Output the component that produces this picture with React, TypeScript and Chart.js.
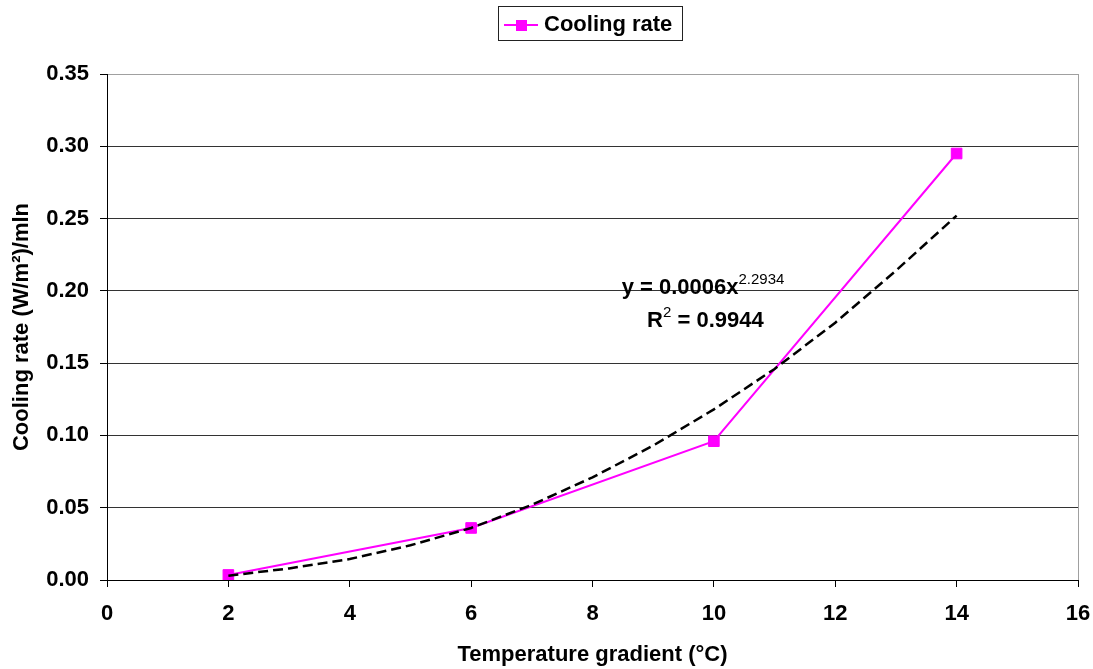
import { useEffect, useRef } from "react"
import { Chart, registerables } from "chart.js"

Chart.register(...registerables)

const FONT = "'Liberation Sans', Arial, sans-serif"

const gradients = [2, 6, 10, 14]
const coolingRates = [0.0035, 0.036, 0.096, 0.295]

// dashed power trendline
const trendX = [2, 3, 4, 5, 6, 7, 8, 9, 10, 11, 12, 13, 14]
const trendY = [0.003, 0.008, 0.0145, 0.024, 0.036, 0.052, 0.071, 0.093, 0.118, 0.146, 0.178, 0.214, 0.252]

const legendLabel = "Cooling rate"
const xTitle = "Temperature gradient (°C)"
const yTitle = "Cooling rate (W/m²)/mln"
const eqMain = "y = 0.0006x"
const eqExp = "2.2934"
const r2Main = "R"
const r2Exp = "2"
const r2Rest = " = 0.9944"
// where the equation lines start, in data units
const eqAnchor = [8.48, 0.198]
const r2Anchor = [8.9, 0.175]

const overlay = {
  id: "overlay",
  afterDraw(chart: any) {
    const { ctx, chartArea, scales } = chart
    ctx.save()

    // legend box
    ctx.font = `bold 22px ${FONT}`
    const textW = ctx.measureText(legendLabel).width
    const boxW = Math.round(6 + 34 + 6 + textW + 10)
    const boxX = Math.round((chartArea.left + chartArea.right) / 2 - boxW / 2) - 3
    ctx.fillStyle = "#fff"
    ctx.fillRect(boxX, 6, boxW, 34)
    ctx.strokeStyle = "#222"
    ctx.lineWidth = 1
    ctx.strokeRect(boxX + 0.5, 6.5, boxW, 34)
    ctx.strokeStyle = "#ff00ff"
    ctx.lineWidth = 2
    ctx.beginPath()
    ctx.moveTo(boxX + 6, 25)
    ctx.lineTo(boxX + 40, 25)
    ctx.stroke()
    ctx.fillStyle = "#ff00ff"
    ctx.fillRect(boxX + 18, 20, 11, 11)
    ctx.fillStyle = "#000"
    ctx.textBaseline = "alphabetic"
    ctx.textAlign = "left"
    ctx.fillText(legendLabel, boxX + 46, 31)

    // trendline equation
    const ex = scales.x.getPixelForValue(eqAnchor[0])
    const ey = scales.y.getPixelForValue(eqAnchor[1])
    ctx.font = `bold 22px ${FONT}`
    ctx.fillText(eqMain, ex, ey)
    const w1 = ctx.measureText(eqMain).width
    ctx.font = `15px ${FONT}`
    ctx.fillText(eqExp, ex + w1, ey - 10)

    const rx = scales.x.getPixelForValue(r2Anchor[0])
    const ry = scales.y.getPixelForValue(r2Anchor[1])
    ctx.font = `bold 22px ${FONT}`
    ctx.fillText(r2Main, rx, ry)
    const w2 = ctx.measureText(r2Main).width
    ctx.font = `15px ${FONT}`
    ctx.fillText(r2Exp, rx + w2, ry - 10)
    const w3 = ctx.measureText(r2Exp).width
    ctx.font = `bold 22px ${FONT}`
    ctx.fillText(r2Rest, rx + w2 + w3, ry)

    ctx.restore()
  },
}

export default function App() {
  const canvasRef = useRef<HTMLCanvasElement | null>(null)

  useEffect(() => {
    if (!canvasRef.current) return
    const chart = new Chart(canvasRef.current, {
      type: "scatter",
      data: {
        datasets: [
          {
            label: "Trend",
            data: trendX.map((x, i) => ({ x, y: trendY[i] })),
            showLine: true,
            borderColor: "#000",
            borderWidth: 2.5,
            borderDash: [10, 5],
            pointRadius: 0,
            tension: 0,
          },
          {
            label: legendLabel,
            data: gradients.map((x, i) => ({ x, y: coolingRates[i] })),
            showLine: true,
            borderColor: "#ff00ff",
            borderWidth: 2,
            backgroundColor: "#ff00ff",
            pointStyle: "rect",
            pointRadius: 7.5,
            pointBorderWidth: 1,
            pointBorderColor: "#ff00ff",
            pointBackgroundColor: "#ff00ff",
            tension: 0,
          },
        ],
      },
      options: {
        responsive: false,
        animation: false,
        layout: { padding: { left: 0, top: 74, right: 15, bottom: 0 } },
        plugins: {
          legend: { display: false },
          tooltip: { enabled: false },
        },
        scales: {
          x: {
            type: "linear",
            min: 0,
            max: 16,
            afterFit: (s: any) => {
              s.height = 89
              s.paddingLeft = 0
              s.paddingRight = 0
            },
            ticks: {
              stepSize: 2,
              color: "#000",
              padding: 14,
              font: { family: FONT, size: 22, weight: "bold" },
            },
            grid: {
              color: (c: any) => (c.tick && c.tick.value === 16 ? "#a0a0a0" : "rgba(0,0,0,0)"),
              tickColor: "#000",
              tickLength: 7,
              lineWidth: 1,
            },
            border: { color: "#000", width: 1 },
            title: {
              display: true,
              text: xTitle,
              color: "#000",
              padding: { top: 0, bottom: 1 },
              font: { family: FONT, size: 22, weight: "bold", lineHeight: 1.2 },
            },
          },
          y: {
            min: 0,
            max: 0.35,
            afterFit: (s: any) => {
              s.width = 107
              s.paddingTop = 0
              s.paddingBottom = 0
            },
            ticks: {
              stepSize: 0.05,
              color: "#000",
              padding: 11,
              font: { family: FONT, size: 22, weight: "bold" },
              callback: (v: any) => Number(v).toFixed(2),
            },
            grid: {
              color: (c: any) => (c.tick && Math.abs(c.tick.value - 0.35) < 1e-9 ? "#a0a0a0" : "#333"),
              tickColor: "#000",
              tickLength: 7,
              lineWidth: 1,
            },
            border: { color: "#000", width: 1 },
            title: {
              display: true,
              text: yTitle,
              color: "#000",
              padding: { top: 9, bottom: 0 },
              font: { family: FONT, size: 22, weight: "bold", lineHeight: 1.2 },
            },
          },
        },
      },
      plugins: [overlay],
    })
    return () => chart.destroy()
  }, [])

  return (
    <div style={{ position: "absolute", left: 0, top: 0, width: 1093, height: 669, background: "#fff" }}>
      <canvas ref={canvasRef} width={1093} height={669} />
    </div>
  )
}
